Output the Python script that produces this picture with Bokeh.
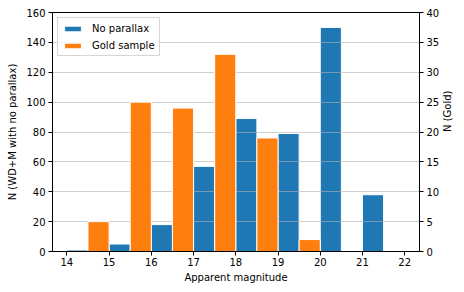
import math
from bokeh.plotting import figure
from bokeh.models import (Range1d, LinearAxis, SingleIntervalTicker, Legend,
                          LegendItem, ColumnDataSource)
from bokeh.embed import file_html
from bokeh.resources import INLINE

# ---- data ----
blue_bins = [14, 15, 16, 17, 18, 19, 20, 21]
no_parallax = [1, 5, 18, 57, 89, 79, 150, 38]
gold_bins = [14.5, 15.5, 16.5, 17.5, 18.5, 19.5]
gold_sample = [5, 25, 24, 33, 19, 2]
bin_width = 0.5

FONT = "DejaVu Sans"

p = figure(frame_width=367, frame_height=239,
           x_range=Range1d(13.66, 22.35), y_range=Range1d(0, 160),
           output_backend="svg", toolbar_location=None,
           min_border_left=52, min_border_right=45,
           min_border_top=12, min_border_bottom=41)
p.extra_y_ranges = {"gold": Range1d(0, 40)}

src_b = ColumnDataSource(dict(x=[b + bin_width / 2 for b in blue_bins], top=no_parallax))
src_o = ColumnDataSource(dict(x=[b + bin_width / 2 for b in gold_bins], top=gold_sample))

rb = p.vbar(x="x", top="top", bottom=0, width=bin_width, source=src_b,
            fill_color="#1f77b4", line_color="white", line_width=1, level="underlay")
ro = p.vbar(x="x", top="top", bottom=0, width=bin_width, source=src_o,
            fill_color="#ff7f0e", line_color="white", line_width=1,
            y_range_name="gold")

# axes styling
p.xaxis.ticker = SingleIntervalTicker(interval=1)
p.yaxis.ticker = SingleIntervalTicker(interval=20)
p.xaxis.axis_label = "Apparent magnitude"
p.yaxis.axis_label = "N (WD+M with no parallax)"

ax_r = LinearAxis(y_range_name="gold", ticker=SingleIntervalTicker(interval=5),
                  axis_label="N (Gold)")
p.add_layout(ax_r, "right")

for ax in [p.xaxis[0], p.yaxis[0], ax_r]:
    ax.minor_tick_line_color = None
    ax.major_tick_out = 4
    ax.major_tick_in = 0
    ax.major_tick_line_color = "black"
    ax.axis_line_color = "black"
    ax.major_label_text_font = FONT
    ax.major_label_text_font_size = "10px"
    ax.major_label_text_color = "black"
    ax.axis_label_text_font = FONT
    ax.axis_label_text_font_size = "10px"
    ax.axis_label_text_font_style = "normal"
    ax.axis_label_text_color = "black"
    ax.major_label_standoff = 3
    ax.axis_label_standoff = 5

ax_r.axis_label_orientation = math.pi / 2
p.xaxis.major_label_standoff = 2
p.xaxis.axis_label_standoff = 3

p.xgrid.visible = False
p.ygrid.grid_line_color = "#b0b0b0"
p.ygrid.grid_line_alpha = 0.6
p.ygrid.grid_line_width = 1
p.ygrid.level = "underlay"

p.outline_line_color = "black"
p.outline_line_alpha = 1
p.outline_line_width = 1

legend = Legend(items=[LegendItem(label="No parallax", renderers=[rb]),
                       LegendItem(label="Gold sample", renderers=[ro])],
                location="top_left")
legend.margin = 5
legend.padding = 4
legend.spacing = 5
legend.glyph_width = 21
legend.glyph_height = 7
legend.label_height = 12
legend.label_standoff = 9
legend.label_text_font = FONT
legend.label_text_font_size = "10px"
legend.label_text_color = "black"
legend.border_line_color = "#cccccc"
legend.border_line_alpha = 0.8
legend.background_fill_alpha = 0.8
legend.level = "overlay"
p.add_layout(legend)

open("out.html", "w").write(file_html(p, INLINE))
